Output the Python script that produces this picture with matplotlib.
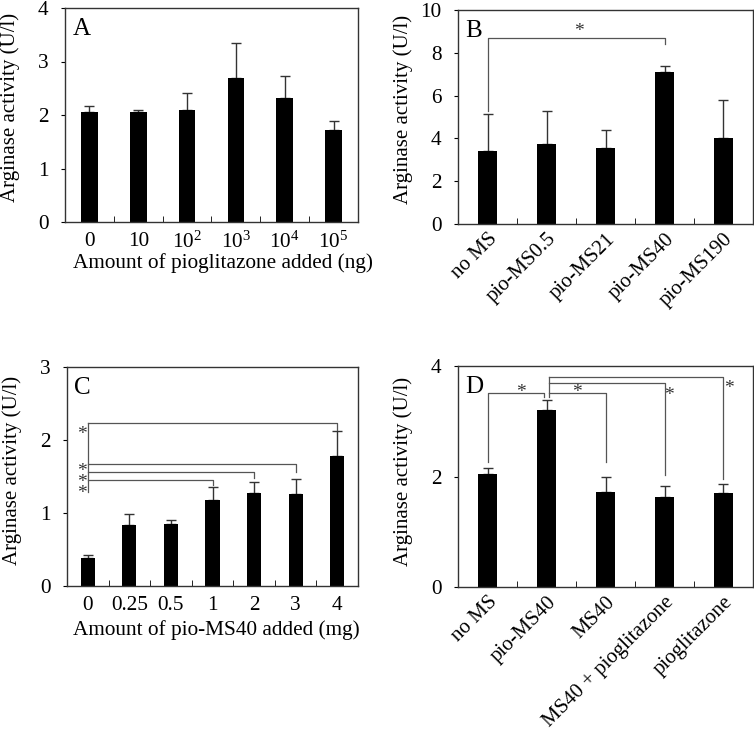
import numpy as np
import matplotlib.pyplot as plt

plt.rcParams['font.family'] = ['Liberation Serif', 'DejaVu Serif']
plt.rcParams['mathtext.fontset'] = 'custom'
plt.rcParams['mathtext.rm'] = 'Liberation Serif'

# panel A
a_labels = ['0', '10', r'$\mathregular{10^2}$', r'$\mathregular{10^3}$',
            r'$\mathregular{10^4}$', r'$\mathregular{10^5}$']
a_vals = [2.05, 2.06, 2.10, 2.70, 2.32, 1.72]
a_err = [0.12, 0.04, 0.32, 0.65, 0.40, 0.16]

# panel B
b_labels = ['no MS', 'pio-MS0.5', 'pio-MS21', 'pio-MS40', 'pio-MS190']
b_vals = [3.42, 3.75, 3.55, 7.12, 4.02]
b_err = [1.70, 1.55, 0.83, 0.28, 1.76]

# panel C
c_labels = ['0', '0.25', '0.5', '1', '2', '3', '4']
c_vals = [0.38, 0.83, 0.85, 1.18, 1.28, 1.26, 1.78]
c_err = [0.04, 0.15, 0.05, 0.17, 0.14, 0.21, 0.34]

# panel D
d_labels = ['no MS', 'pio-MS40', 'MS40', 'MS40 + pioglitazone', 'pioglitazone']
d_vals = [2.05, 3.20, 1.72, 1.63, 1.70]
d_err = [0.11, 0.18, 0.28, 0.19, 0.17]

FS = 15.3
GREY = '#555555'
W, H = 754, 730

fig = plt.figure(figsize=(W / 100, H / 100), dpi=100)
axA = fig.add_axes([65 / W, 1 - 222 / H, 293 / W, 214 / H])
axB = fig.add_axes([458 / W, 1 - 224 / H, 295 / W, 214 / H])
axC = fig.add_axes([67 / W, 1 - 586 / H, 291 / W, 219 / H])
axD = fig.add_axes([458 / W, 1 - 587 / H, 295 / W, 221 / H])


def bars(ax, labels, vals, err, ymax, step, letter, wpx, hpx, yoff, rot=False, bw=0.34):
    x = np.arange(len(vals))
    ax.bar(x, vals, width=bw, color='black', zorder=2)
    ax.errorbar(x, vals, yerr=[np.zeros(len(err)), err], fmt='none',
                ecolor='#333333', elinewidth=1.0, capsize=3.5, capthick=1.0, zorder=1)
    ax.set_xlim(-0.5, len(vals) - 0.5)
    ax.set_ylim(0, ymax)
    ax.set_yticks(np.arange(0, ymax + step / 2, step))
    ax.set_xticks(x)
    ax.set_xticks(np.arange(0.5, len(vals) - 0.5), minor=True)
    ax.tick_params(axis='x', which='minor', direction='in', length=4)
    ax.tick_params(axis='y', direction='out', length=3, labelsize=FS, pad=9)
    if rot:
        ax.tick_params(axis='x', which='major', length=0, labelsize=15, pad=4)
        ax.set_xticklabels(labels, rotation=45, ha='right', rotation_mode='anchor')
    else:
        ax.tick_params(axis='x', which='major', length=0, labelsize=FS, pad=7)
        ax.set_xticklabels(labels)
    ax.set_ylabel('Arginase activity (U/l)', fontsize=15)
    ax.yaxis.set_label_coords(-45 / wpx, 0.5 + yoff / hpx)
    for s in ax.spines.values():
        s.set_color('#333333')
        s.set_linewidth(1.0)
    ax.text(0.025, 0.955, letter, transform=ax.transAxes, fontsize=18,
            va='top', ha='left')


bars(axA, a_labels, a_vals, a_err, 4, 1, 'A', 293, 214, 8)
axA.set_xlabel('Amount of pioglitazone added (ng)', fontsize=FS, labelpad=0)
axA.xaxis.label.set_x(0.5 + 11 / 293)
bars(axB, b_labels, b_vals, b_err, 10, 2, 'B', 295, 214, 8, rot=True, bw=0.32)
bars(axC, c_labels, c_vals, c_err, 3, 1, 'C', 291, 219, 6)
axC.set_xlabel('Amount of pio-MS40 added (mg)', fontsize=FS, labelpad=4)
axC.xaxis.label.set_x(0.5 + 4 / 291)
bars(axD, d_labels, d_vals, d_err, 4, 2, 'D', 295, 221, 5, rot=True, bw=0.31)

lw = 0.9
# B bracket
axB.plot([0, 0, 3, 3], [5.3, 8.71, 8.71, 8.4], color=GREY, lw=lw)
axB.text(1.55, 8.6, '*', fontsize=14, ha='center', va='bottom', color='#333333')

# C brackets
axC.plot([0, 0], [1.29, 2.23], color=GREY, lw=lw)
for xe, yh, ye in [(6, 2.23, 2.14), (5, 1.67, 1.56), (4, 1.56, 1.48), (3, 1.45, 1.38)]:
    axC.plot([0, xe, xe], [yh, yh, ye], color=GREY, lw=lw)
axC.text(-0.14, 2.08, '*', fontsize=14, ha='center', va='center', color='#333333')
axC.text(-0.14, 1.42, '*\n*\n*', fontsize=14, ha='center', va='center',
         linespacing=0.55, color='#333333')

# D brackets
axD.plot([0, 0, 0.96, 0.96], [2.26, 3.51, 3.51, 3.43], color=GREY, lw=lw)
axD.plot([1.04, 1.04], [3.43, 3.8], color=GREY, lw=lw)
for xe, yh, ye in [(2, 3.51, 2.26), (3, 3.69, 2.02), (4, 3.80, 1.96)]:
    axD.plot([1.04, xe, xe], [yh, yh, ye], color=GREY, lw=lw)
for xs, ys in [(0.56, 3.52), (1.52, 3.52), (3.08, 3.47), (4.1, 3.6)]:
    axD.text(xs, ys, '*', fontsize=14, ha='center', va='center', color='#333333')

fig.savefig('out.png', dpi=100)
